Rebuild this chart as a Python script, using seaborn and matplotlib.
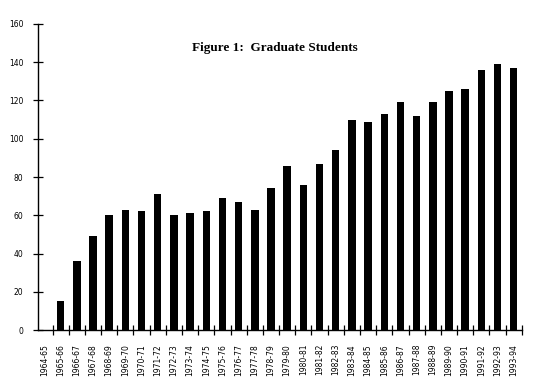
import numpy as np
import pandas as pd
import seaborn as sns
import matplotlib.pyplot as plt
from matplotlib.ticker import FixedLocator

# --- data ---
years = ["1964-65", "1965-66", "1966-67", "1967-68", "1968-69", "1969-70",
         "1970-71", "1971-72", "1972-73", "1973-74", "1974-75", "1975-76",
         "1976-77", "1977-78", "1978-79", "1979-80", "1980-81", "1981-82",
         "1982-83", "1983-84", "1984-85", "1985-86", "1986-87", "1987-88",
         "1988-89", "1989-90", "1990-91", "1991-92", "1992-93", "1993-94"]
students = [0, 15, 36, 49, 60, 63, 62, 71, 60, 61, 62, 69, 67, 63, 74,
            86, 76, 87, 94, 110, 109, 113, 119, 112, 119, 125, 126, 136, 139, 137]
y_ticks = [0, 20, 40, 60, 80, 100, 120, 140, 160]

df = pd.DataFrame({"Year": years, "Students": students})

sns.set_style("white")
plt.rcParams['font.family'] = ['DejaVu Sans']
plt.rcParams['text.color'] = 'black'
plt.rcParams['xtick.color'] = 'black'
plt.rcParams['ytick.color'] = 'black'

fig = plt.figure(figsize=(5.33, 3.9), dpi=100)
ax = fig.add_axes([0.0713, 0.1538, 0.9077, 0.7847])

sns.barplot(data=df, x="Year", y="Students", color="black", saturation=1,
            width=0.46, linewidth=0, ax=ax)

ax.set_xlim(-0.4, len(years) - 0.5)
ax.set_ylim(0, 160)
ax.set_yticks(y_ticks)
ax.set_xlabel('')
ax.set_ylabel('')

# ticks sit between the bars, labels under each bar
ax.xaxis.set_minor_locator(FixedLocator(np.arange(0.5, len(years), 1.0)))
ax.tick_params(axis='x', which='major', length=0, pad=10, labelsize=5.5,
               rotation=90, labelcolor='black')
ax.tick_params(axis='x', which='minor', direction='inout', length=7,
               width=0.9, color='black', bottom=True)
ax.tick_params(axis='y', direction='inout', length=7, width=0.9,
               color='black', left=True, labelsize=5.5, pad=7,
               labelcolor='black')

for side in ['top', 'right']:
    ax.spines[side].set_visible(False)
for side in ['left', 'bottom']:
    ax.spines[side].set_color('black')
    ax.spines[side].set_linewidth(1.0)

ax.text(0.49, 0.9225, "Figure 1:  Graduate Students", transform=ax.transAxes,
        ha='center', va='center', fontsize=9.5, fontweight='bold',
        color='black', family=['Liberation Serif', 'DejaVu Serif'])

fig.savefig("out.png", dpi=100)
